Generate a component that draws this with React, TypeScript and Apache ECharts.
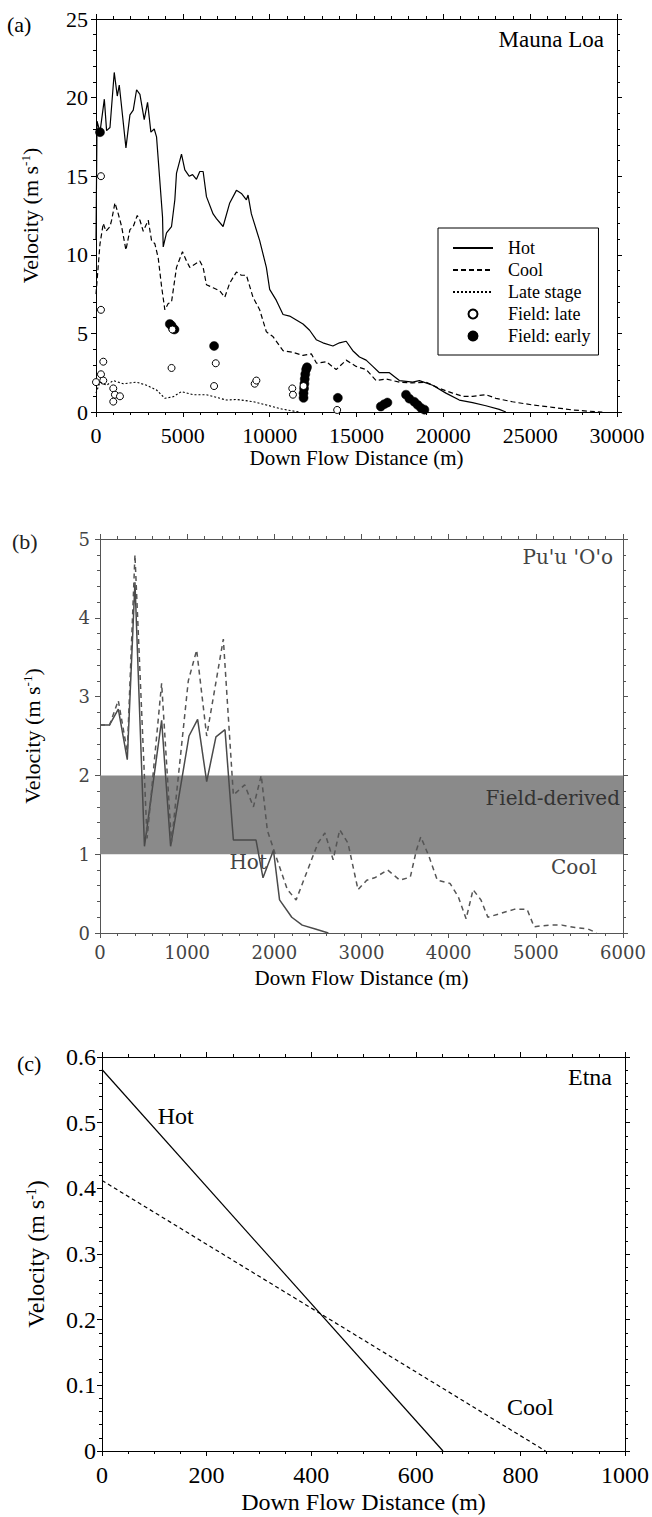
import React, { useEffect, useRef } from 'react';
import * as echarts from 'echarts';

// ---------- Panel (a): Mauna Loa ----------
const maunaHot: [number, number][] = [
  [0, 11.0], [60, 18.5], [230, 17.8], [480, 19.9], [610, 17.9], [805, 18.1], [1050, 21.6], [1225, 20.1],
  [1340, 20.8], [1437, 19.8], [1724, 16.8], [1954, 18.9], [2145, 19.2], [2337, 20.5], [2530, 20.2],
  [2777, 18.6], [2969, 19.7], [3160, 17.8], [3352, 18.0], [3486, 17.5], [3831, 12.4], [3870, 10.5],
  [4060, 11.4], [4349, 11.8], [4540, 13.5], [4636, 15.2], [4923, 16.4], [5115, 15.4], [5364, 15.0],
  [5560, 15.1], [5785, 14.8], [5977, 15.3], [6169, 15.3], [6360, 13.7], [6743, 12.6], [6935, 12.3],
  [7318, 11.8], [7700, 13.3], [8085, 14.1], [8373, 13.9], [8660, 13.5], [8755, 13.8], [8947, 12.6],
  [9425, 10.9], [9810, 9.2], [10000, 7.8], [10385, 7.1], [10770, 6.2], [11150, 6.1], [11534, 5.85],
  [11920, 5.6], [12300, 5.2], [12682, 4.6], [13065, 4.4], [13640, 4.2], [14022, 4.4], [14405, 4.5],
  [14788, 3.9], [15172, 3.5], [15555, 3.3], [15938, 2.9], [16320, 2.5], [16895, 2.5], [17470, 2.0],
  [18236, 1.9], [18620, 2.0], [19385, 1.7], [20150, 1.2], [20920, 0.76], [21685, 0.6], [22450, 0.4],
  [23220, 0.17], [23600, 0],
];
const maunaCool: [number, number][] = [
  [0, 7.5], [230, 10.7], [420, 12.0], [570, 11.5], [805, 11.8], [900, 12.2], [1090, 13.3], [1283, 12.6],
  [1475, 11.8], [1724, 10.3], [1954, 11.6], [2145, 11.8], [2375, 12.5], [2530, 12.2], [2720, 11.5],
  [3008, 12.2], [3200, 10.9], [3390, 10.7], [3582, 9.8], [3774, 8.0], [3965, 6.5], [4157, 6.9],
  [4349, 7.0], [4636, 9.2], [4980, 10.2], [5212, 9.6], [5402, 9.2], [5690, 9.4], [5977, 9.6],
  [6169, 9.2], [6360, 8.1], [6743, 7.9], [7126, 7.7], [7414, 7.3], [7700, 8.2], [8085, 8.9],
  [8373, 8.7], [8660, 8.7], [9040, 7.3], [9425, 6.5], [9810, 5.1], [10190, 4.8], [10770, 3.9],
  [11340, 3.8], [11915, 3.6], [12400, 3.7], [12700, 3.1], [13257, 3.2], [13831, 2.7], [14405, 3.3],
  [14980, 2.9], [15555, 2.7], [16130, 2.0], [16705, 2.1], [17470, 1.9], [18236, 1.85], [19002, 1.9],
  [19770, 1.5], [20535, 1.2], [21110, 1.0], [21685, 1.0], [22450, 1.1], [23030, 0.87], [23980, 0.65],
  [25130, 0.45], [26280, 0.3], [27430, 0.13], [28390, 0.05], [29155, 0],
];
const maunaLate: [number, number][] = [
  [0, 1.2], [230, 1.9], [610, 1.7], [995, 2.0], [1570, 1.8], [2337, 1.9], [2910, 1.7], [3486, 1.4],
  [3965, 0.87], [4445, 0.97], [4925, 1.3], [5590, 1.1], [6360, 1.1], [7510, 0.76], [8085, 0.8],
  [9040, 0.66], [9810, 0.45], [10770, 0.17], [11725, 0],
];
const maunaFieldLate: [number, number][] = [
  [287, 15.0], [287, 6.5], [420, 3.2], [287, 2.4], [420, 2.0], [0, 1.9], [995, 1.5], [1090, 1.1],
  [1380, 1.0], [995, 0.66], [4350, 2.8], [4400, 5.25], [6896, 3.1], [6800, 1.65], [9138, 1.8],
  [9235, 2.0], [11303, 1.5], [11340, 1.1], [11950, 1.65], [13887, 0.13],
];
const maunaFieldEarly: [number, number][] = [
  [230, 17.8], [4250, 5.6], [4445, 5.3], [4350, 5.5], [4520, 5.25], [6800, 4.2],
  [11950, 0.9], [11950, 1.2], [11980, 1.5], [12000, 1.8], [12020, 2.1], [12050, 2.4], [12100, 2.7],
  [12150, 2.85], [13925, 0.9], [16400, 0.35], [16600, 0.5], [16780, 0.6], [17850, 1.1], [18045, 0.85],
  [18330, 0.65], [18525, 0.45], [18720, 0.25], [18910, 0.15],
];

// ---------- Panel (b): Pu'u 'O'o ----------
const puuHot: [number, number][] = [
  [0, 2.64], [110, 2.64], [210, 2.84], [313, 2.2], [401, 4.45], [510, 1.1], [707, 2.7], [810, 1.1],
  [1021, 2.5], [1120, 2.71], [1224, 1.92], [1330, 2.49], [1434, 2.58], [1530, 1.18], [1790, 1.18],
  [1870, 0.7], [1990, 1.05], [2060, 0.42], [2200, 0.2], [2320, 0.1], [2470, 0.05], [2620, 0],
];
const puuCool: [number, number][] = [
  [0, 2.64], [110, 2.64], [210, 2.95], [313, 2.3], [401, 4.8], [540, 1.2], [707, 3.17], [820, 1.15],
  [1013, 3.2], [1109, 3.59], [1224, 2.5], [1415, 3.73], [1530, 1.75], [1660, 1.88], [1760, 1.6],
  [1850, 2.0], [1920, 1.3], [2020, 0.97], [2150, 0.55], [2250, 0.42], [2500, 1.14], [2580, 1.27],
  [2675, 0.93], [2750, 1.31], [2845, 1.14], [2960, 0.55], [3060, 0.67], [3150, 0.7], [3300, 0.8],
  [3440, 0.67], [3560, 0.71], [3630, 1.05], [3680, 1.22], [3775, 0.97], [3870, 0.67], [4015, 0.63],
  [4110, 0.46], [4200, 0.18], [4280, 0.55], [4370, 0.42], [4450, 0.2], [4600, 0.25], [4750, 0.3],
  [4900, 0.3], [4980, 0.08], [5150, 0.1], [5300, 0.1], [5450, 0.07], [5600, 0.05], [5700, 0],
];
const puuFieldBand: [number, number] = [1, 2];

// ---------- Panel (c): Etna ----------
const etnaHot: [number, number][] = [[0, 0.581], [652, 0]];
const etnaCool: [number, number][] = [[0, 0.412], [848, 0]];

// Axis ranges / tick steps
const aX = { min: 0, max: 30000, interval: 5000, minor: 5 };
const aY = { min: 0, max: 25, interval: 5, minor: 5 };
const bX = { min: 0, max: 6000, interval: 1000, minor: 5 };
const bY = { min: 0, max: 5, interval: 1, minor: 5 };
const cX = { min: 0, max: 1000, interval: 200, minor: 4 };
const cY = { min: 0, max: 0.6, interval: 0.1, minor: 5 };

const SERIF = 'Liberation Serif';
const BOOK = 'DejaVu Serif';

const fmt = (v: number) => String(Math.round(v * 1000) / 1000);

function xAxes(grid: number, r: any, o: any) {
  const base = {
    type: 'value', gridIndex: grid, min: r.min, max: r.max, interval: r.interval,
    splitLine: { show: false },
    axisLine: { show: true, onZero: false, lineStyle: { color: o.color, width: 1 } },
    axisTick: { show: true, inside: false, length: 5, lineStyle: { color: o.color } },
    minorTick: { show: true, splitNumber: r.minor, length: 3, lineStyle: { color: o.color } },
  };
  return [
    {
      ...base, position: 'bottom',
      axisLabel: { show: true, margin: o.margin, fontFamily: o.font, fontSize: o.size, color: o.labelColor, formatter: fmt },
      name: 'Down Flow Distance (m)', nameLocation: 'middle', nameGap: o.nameGap, nameMoveOverlap: false,
      nameTextStyle: { fontFamily: SERIF, fontSize: o.nameSize, color: '#000' },
    },
    { ...base, position: 'top', axisLabel: { show: false } },
  ];
}

function yAxes(grid: number, r: any, o: any) {
  const base = {
    type: 'value', gridIndex: grid, min: r.min, max: r.max, interval: r.interval,
    splitLine: { show: false },
    axisLine: { show: true, onZero: false, lineStyle: { color: o.color, width: 1 } },
    axisTick: { show: true, inside: false, length: 5, lineStyle: { color: o.color } },
    minorTick: { show: true, splitNumber: r.minor, length: 3, lineStyle: { color: o.color } },
  };
  return [
    {
      ...base, position: 'left',
      axisLabel: { show: true, margin: o.margin, fontFamily: o.font, fontSize: o.size, color: o.labelColor, formatter: fmt },
      name: '{b|Velocity (m s}{s|-1}{b|)}', nameLocation: 'middle', nameGap: o.nameGap, nameMoveOverlap: false,
      nameTextStyle: {
        fontFamily: SERIF, fontSize: o.nameSize, color: '#000',
        rich: {
          b: { fontFamily: SERIF, fontSize: o.nameSize, color: '#000' },
          s: { fontFamily: SERIF, fontSize: Math.round(o.nameSize * 0.6), color: '#000', verticalAlign: 'top' },
        },
      },
    },
    { ...base, position: 'right', axisLabel: { show: false } },
  ];
}

const hidden = { opacity: 0, color: 'rgba(0,0,0,0)', borderWidth: 0 };

export default function App() {
  const ref = useRef<HTMLDivElement>(null);
  useEffect(() => {
    if (!ref.current) return;
    const chart = echarts.init(ref.current, undefined, { renderer: 'svg' });
    const mp = (name: string, coord: [number, number], font: string, size: number, color: string) => ({
      silent: true, symbol: 'circle', symbolSize: 0,
      label: { show: true, position: 'inside', formatter: '{b}', fontFamily: font, fontSize: size, color },
      data: [{ name, coord }],
    });
    const option: any = {
      animation: false,
      backgroundColor: '#fff',
      textStyle: { fontFamily: SERIF },
      grid: [
        { left: 96, top: 19, width: 521, height: 393, outerBoundsMode: 'none' },
        { left: 100, top: 539, width: 523, height: 394, outerBoundsMode: 'none' },
        { left: 102, top: 1057, width: 523, height: 394, outerBoundsMode: 'none' },
      ],
      xAxis: [
        ...xAxes(0, aX, { color: '#000', labelColor: '#000', font: SERIF, size: 22, margin: 12, nameGap: 35, nameSize: 21 }),
        ...xAxes(1, bX, { color: '#555', labelColor: '#444', font: BOOK, size: 18, margin: 10, nameGap: 34, nameSize: 21 }),
        ...xAxes(2, cX, { color: '#000', labelColor: '#000', font: SERIF, size: 24, margin: 12, nameGap: 39, nameSize: 24 }),
      ],
      yAxis: [
        ...yAxes(0, aY, { color: '#000', labelColor: '#000', font: SERIF, size: 22, margin: 8, nameGap: 55, nameSize: 22 }),
        ...yAxes(1, bY, { color: '#555', labelColor: '#444', font: BOOK, size: 18, margin: 10, nameGap: 57, nameSize: 22 }),
        ...yAxes(2, cY, { color: '#000', labelColor: '#000', font: SERIF, size: 24, margin: 6, nameGap: 54, nameSize: 24 }),
      ],
      legend: {
        show: true, orient: 'vertical', left: 438, top: 228,
        data: [
          { name: 'Hot', itemStyle: hidden },
          { name: 'Cool', itemStyle: hidden },
          { name: 'Late stage', itemStyle: hidden },
          { name: 'Field: late' },
          { name: 'Field: early' },
        ],
        itemWidth: 40, itemHeight: 9, itemGap: 4,
        padding: [11, 8, 10, 14],
        borderColor: '#000', borderWidth: 1, borderRadius: 0, backgroundColor: '#fff',
        selectedMode: false,
        textStyle: { fontFamily: SERIF, fontSize: 18, color: '#000', padding: [0, 0, 0, 10] },
      },
      graphic: [
        { type: 'text', x: 7, y: 24, style: { text: '(a)', fontFamily: SERIF, fontSize: 22, fill: '#000', textVerticalAlign: 'middle' } },
        { type: 'text', x: 12, y: 541, style: { text: '(b)', fontFamily: SERIF, fontSize: 22, fill: '#222', textVerticalAlign: 'middle' } },
        { type: 'text', x: 17, y: 1063, style: { text: '(c)', fontFamily: SERIF, fontSize: 22, fill: '#000', textVerticalAlign: 'middle' } },
        { type: 'text', x: 604, y: 39, style: { text: 'Mauna Loa', fontFamily: SERIF, fontSize: 23, fill: '#000', textAlign: 'right', textVerticalAlign: 'middle' } },
        { type: 'text', x: 613, y: 557, style: { text: "Pu'u 'O'o", fontFamily: BOOK, fontSize: 20, fill: '#444', textAlign: 'right', textVerticalAlign: 'middle' } },
        { type: 'text', x: 612, y: 1077, style: { text: 'Etna', fontFamily: SERIF, fontSize: 24, fill: '#000', textAlign: 'right', textVerticalAlign: 'middle' } },
      ],
      series: [
        // (a)
        { name: 'Hot', type: 'line', xAxisIndex: 0, yAxisIndex: 0, data: maunaHot, showSymbol: false, symbol: 'none',
          lineStyle: { color: '#000', width: 1.2, type: 'solid' }, itemStyle: { color: 'rgba(0,0,0,0)' } },
        { name: 'Cool', type: 'line', xAxisIndex: 0, yAxisIndex: 0, data: maunaCool, showSymbol: false, symbol: 'none',
          lineStyle: { color: '#000', width: 1.2, type: [5, 3] }, itemStyle: { color: 'rgba(0,0,0,0)' } },
        { name: 'Late stage', type: 'line', xAxisIndex: 0, yAxisIndex: 0, data: maunaLate, showSymbol: false, symbol: 'none',
          lineStyle: { color: '#000', width: 1.1, type: [2, 2] }, itemStyle: { color: 'rgba(0,0,0,0)' } },
        { name: 'Field: early', type: 'scatter', xAxisIndex: 0, yAxisIndex: 0, data: maunaFieldEarly, symbol: 'circle', symbolSize: 9,
          itemStyle: { color: '#000', borderColor: '#000', borderWidth: 0.5, opacity: 1 } },
        { name: 'Field: late', type: 'scatter', xAxisIndex: 0, yAxisIndex: 0, data: maunaFieldLate, symbol: 'circle', symbolSize: 7,
          itemStyle: { color: '#fff', borderColor: '#000', borderWidth: 1, opacity: 1 } },
        // (b)
        { name: "Pu'u 'O'o hot", type: 'line', xAxisIndex: 2, yAxisIndex: 2, data: puuHot, showSymbol: false, symbol: 'none',
          lineStyle: { color: '#4a4a4a', width: 1.5, type: 'solid' }, z: 3,
          markArea: {
            silent: true, itemStyle: { color: '#8a8a8a', opacity: 1 },
            label: { show: true, position: 'insideRight', distance: 3, offset: [0, -17], formatter: 'Field-derived',
              fontFamily: BOOK, fontSize: 20, color: '#333' },
            data: [[{ yAxis: puuFieldBand[0] }, { yAxis: puuFieldBand[1] }]],
          },
          markPoint: mp('Hot', [1700, 0.9], BOOK, 20, '#444') },
        { name: "Pu'u 'O'o cool", type: 'line', xAxisIndex: 2, yAxisIndex: 2, data: puuCool, showSymbol: false, symbol: 'none',
          lineStyle: { color: '#555', width: 1.5, type: [5, 4] }, z: 3,
          markPoint: mp('Cool', [5437, 0.84], BOOK, 20, '#444') },
        // (c)
        { name: 'Etna hot', type: 'line', xAxisIndex: 4, yAxisIndex: 4, data: etnaHot, showSymbol: false, symbol: 'none',
          lineStyle: { color: '#000', width: 1.2, type: 'solid' },
          markPoint: mp('Hot', [141, 0.51], SERIF, 24, '#000') },
        { name: 'Etna cool', type: 'line', xAxisIndex: 4, yAxisIndex: 4, data: etnaCool, showSymbol: false, symbol: 'none',
          lineStyle: { color: '#000', width: 1.2, type: [4, 3] },
          markPoint: mp('Cool', [819, 0.067], SERIF, 24, '#000') },
      ],
    };
    chart.setOption(option);
    return () => chart.dispose();
  }, []);
  return <div ref={ref} style={{ position: 'absolute', left: 0, top: 0, width: 652, height: 1517 }} />;
}
